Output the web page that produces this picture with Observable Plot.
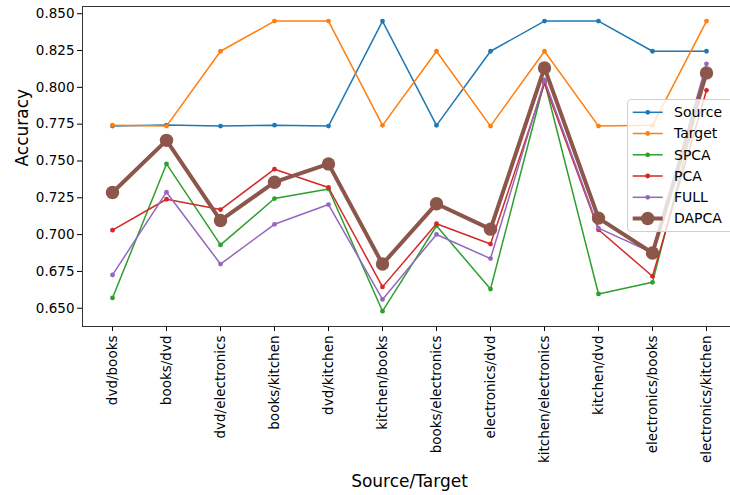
<!DOCTYPE html>
<html>
<head>
<meta charset="utf-8">
<script src="https://cdn.jsdelivr.net/npm/d3@7"></script>
<script src="https://cdn.jsdelivr.net/npm/@observablehq/plot@0.6"></script>
<style>
  html, body { margin: 0; padding: 0; background: white; }
  #wrap { position: relative; width: 730px; height: 495px; overflow: hidden; background: white; }
  #wrap > svg { max-width: none !important; width: 738px; height: 495px; }
  #legend { position: absolute; left: 627px; top: 99px; width: 108px; height: 133px;
            background: rgba(255,255,255,0.8); border: 1px solid #d0d0d0; border-radius: 4px; box-sizing: border-box; }
</style>
</head>
<body>
<div id="wrap"></div>
<script>
const categories = ["dvd/books","books/dvd","dvd/electronics","books/kitchen","dvd/kitchen","kitchen/books","books/electronics","electronics/dvd","kitchen/electronics","kitchen/dvd","electronics/books","electronics/kitchen"];
const seriesNames = ["Source","Target","SPCA","PCA","FULL","DAPCA"];
const colors = ["#1f77b4","#ff7f0e","#2ca02c","#d62728","#9467bd","#8c564b"];
const source = [0.7737,0.7744,0.7737,0.7743,0.7737,0.845,0.7742,0.8245,0.845,0.845,0.8245,0.8245];
const target = [0.7743,0.7737,0.8245,0.845,0.845,0.7742,0.8245,0.7737,0.8245,0.7737,0.7742,0.845];
const spca   = [0.657,0.748,0.693,0.7245,0.731,0.648,0.706,0.663,0.804,0.6597,0.6676,0.810];
const pca    = [0.703,0.724,0.717,0.7444,0.732,0.6645,0.7074,0.6936,0.8026,0.7033,0.6717,0.798];
const full   = [0.6726,0.7288,0.680,0.707,0.7204,0.656,0.7001,0.6837,0.805,0.7044,0.6877,0.816];
const dapca  = [0.7286,0.764,0.7096,0.7356,0.748,0.680,0.721,0.7037,0.8132,0.7112,0.6875,0.8098];
const yTicks = [0.650,0.675,0.700,0.725,0.750,0.775,0.800,0.825,0.850];

const seriesValues = [source, target, spca, pca, full, dapca];
const data = [];
seriesNames.forEach((s, i) => categories.forEach((c, j) => data.push({series: s, cat: c, value: seriesValues[i][j]})));

const marks = [Plot.frame({stroke: "#333", strokeWidth: 1})];
seriesNames.forEach((s) => {
  const d = data.filter(r => r.series === s);
  const big = s === "DAPCA";
  marks.push(Plot.line(d, {x: "cat", y: "value", stroke: "series", strokeWidth: big ? 4 : 1.5}));
  marks.push(Plot.dot(d, {x: "cat", y: "value", fill: "series", r: big ? 6.7 : 2.4, stroke: "none"}));
});
marks.push(Plot.text(["Accuracy"], {frameAnchor: "left", dx: -60, rotate: -90, fontSize: 17, lineAnchor: "middle", fill: "black"}));
marks.push(Plot.text(["Source/Target"], {frameAnchor: "bottom", dy: 155, fontSize: 17, lineAnchor: "middle", fill: "black"}));

const chart = Plot.plot({
  width: 738, height: 495,
  marginLeft: 82, marginRight: 2, marginTop: 6, marginBottom: 169,
  style: {fontFamily: "DejaVu Sans", fontSize: "13.5px", background: "white", color: "black", maxWidth: "none"},
  x: {type: "point", domain: categories, padding: 0.52, label: null, tickRotate: -90, tickSize: 5, tickPadding: 4},
  y: {domain: [0.6376, 0.8549], ticks: yTicks, tickFormat: ".3f", label: null, tickSize: 5, tickPadding: 3},
  color: {domain: seriesNames, range: colors},
  marks
});
document.getElementById("wrap").appendChild(chart);

// legend
const legend = d3.select("#wrap").append("div").attr("id", "legend");
const svg = legend.append("svg").attr("width", 108).attr("height", 133).style("position", "absolute").style("left", "-1px").style("top", "-1px");
const rowY = [13.3, 34.5, 55.8, 77.0, 98.3, 119.5];
seriesNames.forEach((s, i) => {
  const big = s === "DAPCA";
  const g = svg.append("g").attr("transform", `translate(0,${rowY[i]})`);
  g.append("line").attr("x1", 5.7).attr("x2", 35.7).attr("y1", 0).attr("y2", 0).attr("stroke", colors[i]).attr("stroke-width", big ? 4 : 1.5);
  g.append("circle").attr("cx", 20.7).attr("cy", 0).attr("r", big ? 6.7 : 2.4).attr("fill", colors[i]);
  g.append("text").attr("x", 47).attr("y", 0).attr("dy", "0.35em").attr("font-family", "DejaVu Sans").attr("font-size", 14).attr("fill", "black").text(s);
});
</script>
</body>
</html>
